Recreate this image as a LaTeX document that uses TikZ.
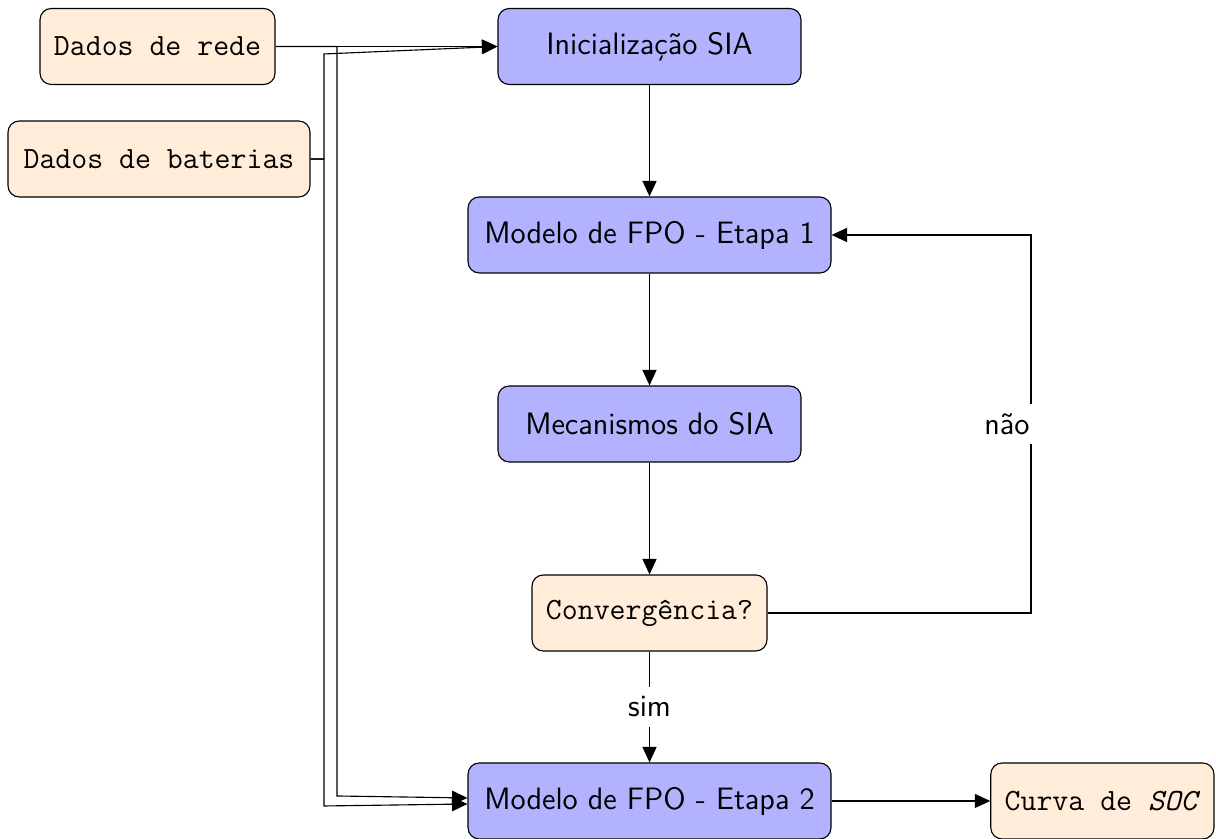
\documentclass[tikz,border=0pt]{standalone}
\usetikzlibrary{arrows.meta, positioning, calc}
\usepackage{xcolor}
\definecolor{procfill}{RGB}{178,178,255}
\definecolor{datafill}{RGB}{255,236,217}

\begin{document}
\begin{tikzpicture}[
  proc/.style={draw, rounded corners, fill=procfill, minimum height=0.95cm, align=center, font=\fontsize{11}{13}\selectfont\sffamily},
  data/.style={draw, rounded corners, fill=datafill, minimum height=0.95cm, align=center, font=\fontsize{11}{13}\selectfont\ttfamily},
  lbl/.style={fill=white, font=\fontsize{11}{13}\selectfont\sffamily},
  arr/.style={-{Triangle[length=5.5pt, width=5pt]}}
]
\useasboundingbox (0,0) rectangle (15.2,10.4875);

% Input data
\node[data, minimum width=2.9375cm] (rede) at (1.969, 9.906) {Dados de rede};
\node[data, minimum width=3.775cm] (bat) at (1.9875, 8.5) {Dados de baterias};

% Main flow
\node[proc, minimum width=3.7875cm] (init) at (8.119, 9.906) {Inicialização SIA};
\node[proc, minimum width=4.5375cm] (etapa1) at (8.119, 7.55) {Modelo de FPO - Etapa 1};
\node[proc, minimum width=3.7875cm] (mec) at (8.119, 5.1875) {Mecanismos do SIA};
\node[data, minimum width=2.9375cm] (conv) at (8.119, 2.825) {Convergência?};
\node[proc, minimum width=4.5375cm] (etapa2) at (8.119, 0.475) {Modelo de FPO - Etapa 2};
\node[data, minimum width=2.79cm] (curva) at (13.78, 0.475) {Curva de \textit{SOC}};

% Bends for the input lines
\coordinate (redeBot) at (4.2125, 0.5375);
\coordinate (batTop) at (4.05, 9.8125);
\coordinate (batBot) at (4.05, 0.4125);
\coordinate (redeEnd) at ([yshift=0.0375cm]etapa2.west);
\coordinate (batEnd) at ([yshift=-0.0375cm]etapa2.west);
\coordinate (loop) at (12.8875, 5.1875);

% Inputs
\draw[arr] (rede.east) -- (init.west);
\draw[arr] (rede.east) -| (redeBot) -- (redeEnd);
\draw[arr] (bat.east) -| (batTop) -- (init.west);
\draw[arr] (bat.east) -| (batBot) -- (batEnd);

% Flow
\draw[arr] (init) -- (etapa1);
\draw[arr] (etapa1) -- (mec);
\draw[arr] (mec) -- (conv);
\draw[arr] (conv) -- node[lbl] {sim} (etapa2);
\draw[arr] (conv.east) -| (loop) node[lbl, xshift=-0.3cm] {não} |- (etapa1.east);
\draw[arr] (etapa2) -- (curva);
\end{tikzpicture}
\end{document}
